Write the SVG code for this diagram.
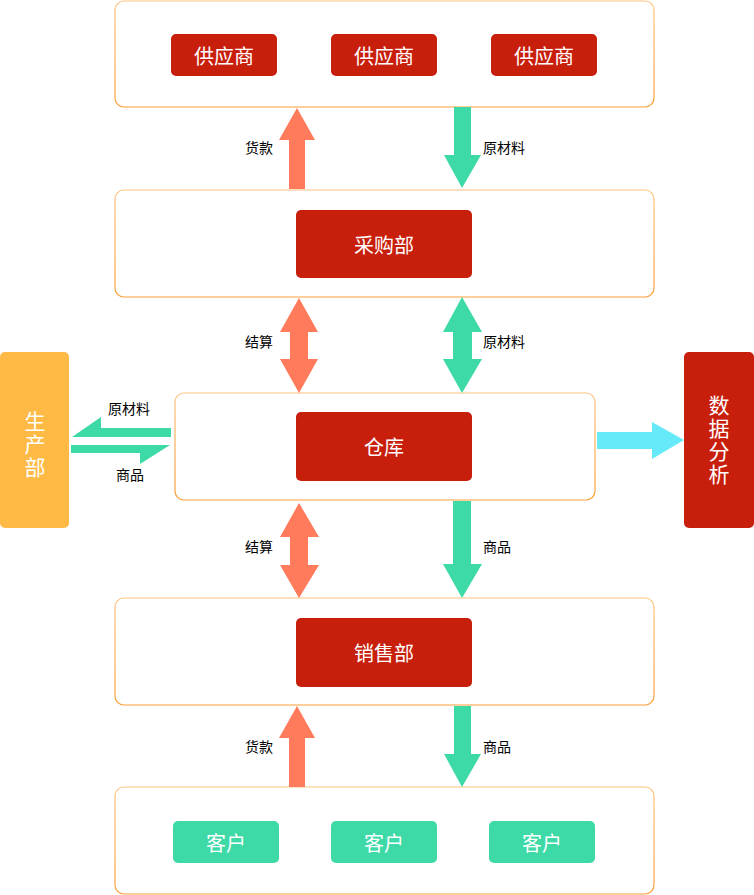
<svg xmlns="http://www.w3.org/2000/svg" width="754" height="895" viewBox="0 0 754 895">
<defs>
<linearGradient id="bd" x1="0" y1="0" x2="0" y2="1">
<stop offset="0" stop-color="#FFC27E"/>
<stop offset="1" stop-color="#FF9E38"/>
</linearGradient>
<style>
.box{fill:#fff;stroke:url(#bd);stroke-width:1.2}
.red{fill:#C81E0C}
.grn{fill:#3DD9A6}
.org{fill:#FF7B5B}
.btxt{font-family:"Noto Sans CJK SC",sans-serif;font-size:20px;fill:#fff;text-anchor:middle;dominant-baseline:central}
.vtxt{font-family:"Noto Sans CJK SC",sans-serif;font-size:21px;fill:#fff;text-anchor:middle;writing-mode:vertical-rl;letter-spacing:2px}
.lbl{font-family:"Noto Sans CJK SC",sans-serif;font-size:14px;fill:#000;dominant-baseline:central}
</style>
</defs>
<rect width="754" height="895" fill="#fff"/>
<g id="suppliers">
<rect class="box" x="115" y="1" width="539" height="106" rx="9"/>
<rect class="red" x="171" y="34" width="106" height="42" rx="5"/>
<text class="btxt" x="224" y="55">供应商</text>
<rect class="red" x="331" y="34" width="106" height="42" rx="5"/>
<text class="btxt" x="384" y="55">供应商</text>
<rect class="red" x="491" y="34" width="106" height="42" rx="5"/>
<text class="btxt" x="544" y="55">供应商</text>
</g>
<g id="purchasing">
<rect class="box" x="115" y="190" width="539" height="107" rx="9"/>
<rect class="red" x="296" y="210" width="176" height="68" rx="5"/>
<text class="btxt" x="384" y="244">采购部</text>
</g>
<g id="warehouse">
<rect class="box" x="175" y="393" width="420" height="107" rx="9"/>
<rect class="red" x="296" y="412" width="176" height="69" rx="5"/>
<text class="btxt" x="384" y="446">仓库</text>
</g>
<g id="sales">
<rect class="box" x="115" y="598" width="539" height="107" rx="9"/>
<rect class="red" x="296" y="618" width="176" height="69" rx="5"/>
<text class="btxt" x="384" y="652">销售部</text>
</g>
<g id="customers">
<rect class="box" x="115" y="787" width="539" height="107" rx="9"/>
<rect class="grn" x="173" y="821" width="106" height="42" rx="5"/>
<text class="btxt" x="226" y="842">客户</text>
<rect class="grn" x="331" y="821" width="106" height="42" rx="5"/>
<text class="btxt" x="384" y="842">客户</text>
<rect class="grn" x="489" y="821" width="106" height="42" rx="5"/>
<text class="btxt" x="542" y="842">客户</text>
</g>
<g id="production">
<rect x="0" y="352" width="69" height="176" rx="5" fill="#FFBA45"/>
<text class="vtxt" x="35" y="445">生产部</text>
</g>
<g id="analysis">
<rect class="red" x="684" y="352" width="70" height="176" rx="5"/>
<text class="vtxt" x="719" y="441">数据分析</text>
</g>
<g id="connectors">
<polygon class="org" points="289,189 289,140 279,140 297,108 315,140 305,140 305,189"/>
<polygon class="grn" points="454,107 454,155 444,155 462,188 481,155 471,155 471,107"/>
<polygon class="org" points="299,298 280,332 290,332 290,359 280,359 299,393 318,359 308,359 308,332 318,332"/>
<polygon class="grn" points="462,297 443,332 453,332 453,359 443,359 462,393 482,359 472,359 472,332 482,332"/>
<polygon class="org" points="299,503 280,537 290,537 290,565 280,565 299,598 319,565 308,565 308,537 319,537"/>
<polygon class="grn" points="453,501 453,564 443,564 462,598 482,564 471,564 471,501"/>
<polygon class="org" points="289,787 289,738 279,738 297,706 315,738 305,738 305,787"/>
<polygon class="grn" points="454,706 454,754 444,754 462,787 481,754 471,754 471,706"/>
<polygon class="grn" points="72,437 101,417 101,428 171,428 171,437"/>
<polygon class="grn" points="71,445 170,445 140,464 140,453 71,453"/>
<polygon fill="#66E9F8" points="597,432 652,432 652,422 684,440 652,459 652,449 597,449"/>
<text class="lbl" x="245" y="147">货款</text>
<text class="lbl" x="483" y="147">原材料</text>
<text class="lbl" x="245" y="341">结算</text>
<text class="lbl" x="483" y="341">原材料</text>
<text class="lbl" x="108" y="408">原材料</text>
<text class="lbl" x="116" y="474">商品</text>
<text class="lbl" x="245" y="546">结算</text>
<text class="lbl" x="483" y="546">商品</text>
<text class="lbl" x="245" y="746">货款</text>
<text class="lbl" x="483" y="746">商品</text>
</g>
</svg>
